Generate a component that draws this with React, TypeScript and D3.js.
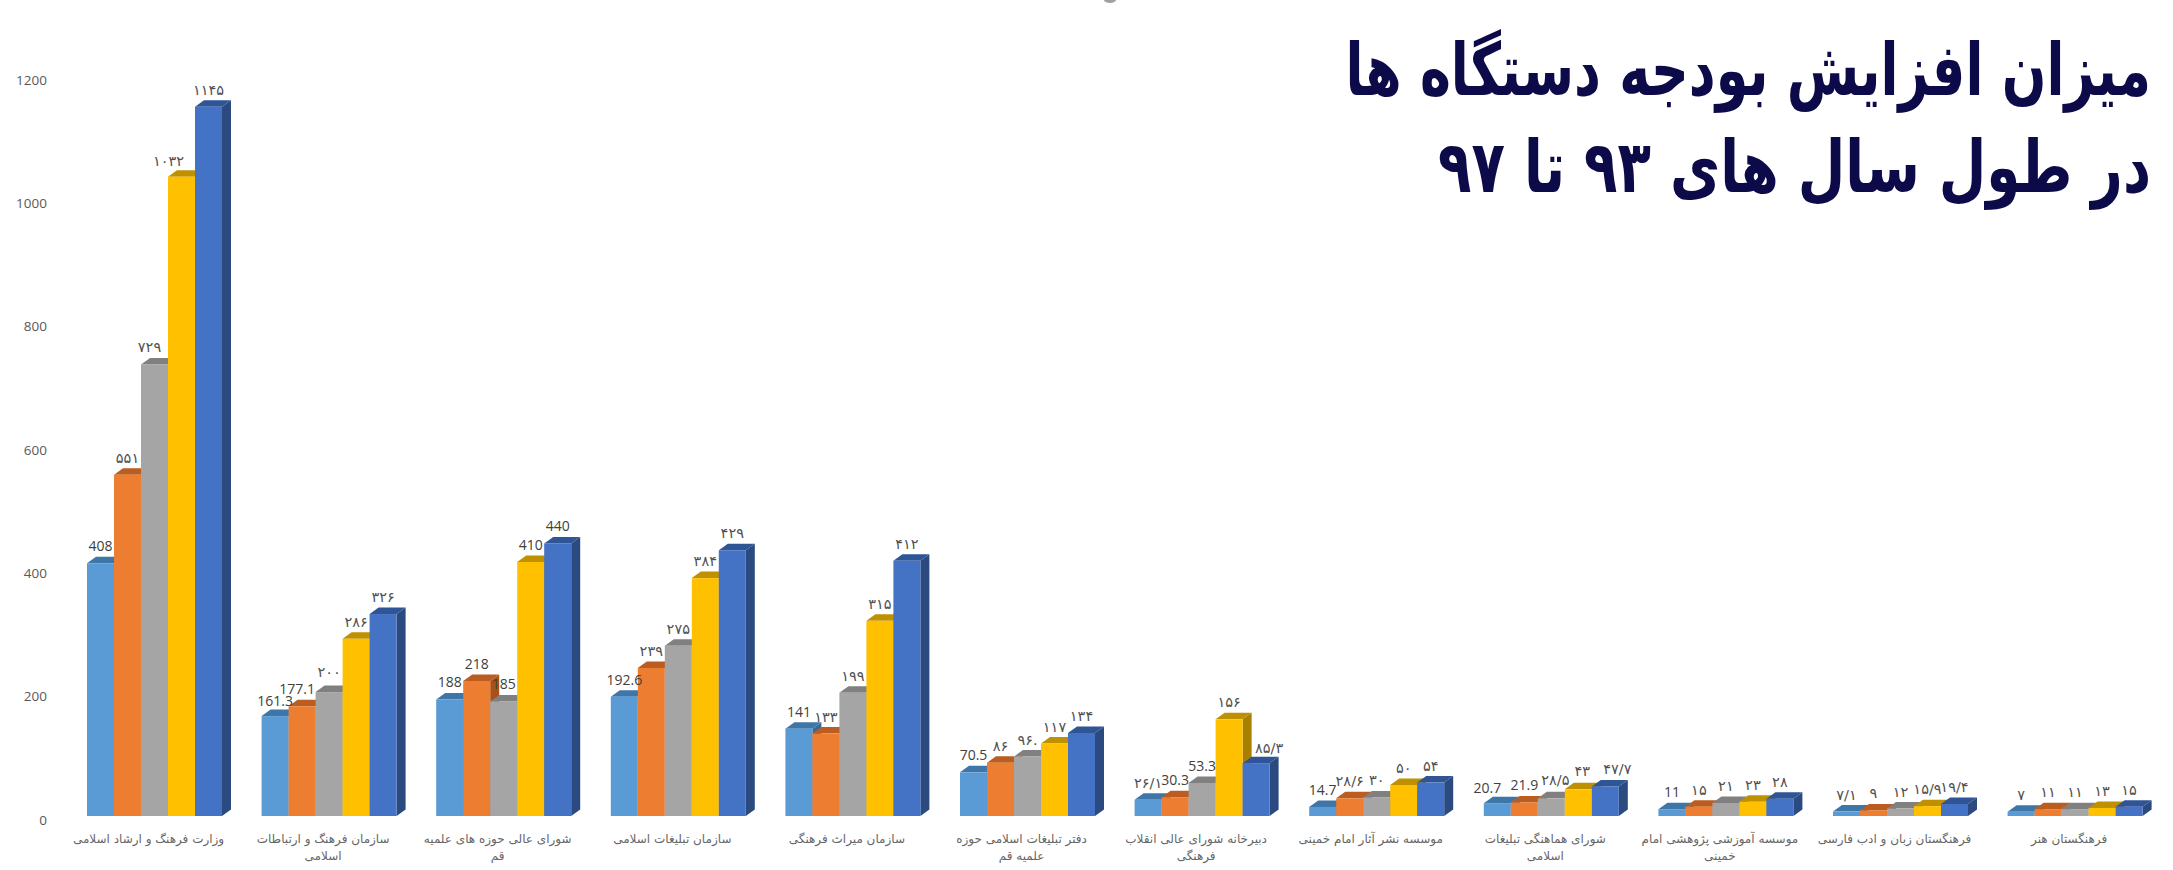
import React, { useEffect, useRef } from 'react';
import * as d3 from 'd3';

const CATEGORIES: string[][] = [
  ['وزارت فرهنگ و ارشاد اسلامی'],
  ['سازمان فرهنگ و ارتباطات', 'اسلامی'],
  ['شورای عالی حوزه های علمیه', 'قم'],
  ['سازمان تبلیغات اسلامی'],
  ['سازمان میراث فرهنگی'],
  ['دفتر تبلیغات اسلامی حوزه', 'علمیه قم'],
  ['دبیرخانه شورای عالی انقلاب', 'فرهنگی'],
  ['موسسه نشر آثار امام خمینی'],
  ['شورای هماهنگی تبلیغات', 'اسلامی'],
  ['موسسه آموزشی پژوهشی امام', 'خمینی'],
  ['فرهنگستان زبان و ادب فارسی'],
  ['فرهنگستان هنر'],
];

// one list per year, 93 to 97
const Y93 = [408, 161.3, 188, 192.6, 141, 70.5, 26.1, 14.7, 20.7, 11, 7.1, 7];
const Y94 = [551, 177.1, 218, 239, 133, 86, 30.3, 28.6, 21.9, 15, 9, 11];
const Y95 = [729, 200, 185, 275, 199, 96, 53.3, 30, 28.5, 21, 12, 11];
const Y96 = [1032, 286, 410, 384, 315, 117, 156, 50, 43, 23, 15.9, 13];
const Y97 = [1145, 326, 440, 429, 412, 134, 85.3, 54, 47.7, 28, 19.4, 15];

const L93 = ['408', '161.3', '188', '192.6', '141', '70.5', '۲۶/۱', '14.7', '20.7', '11', '۷/۱', '۷'];
const L94 = ['۵۵۱', '177.1', '218', '۲۳۹', '۱۳۳', '۸۶', '30.3', '۲۸/۶', '21.9', '۱۵', '۹', '۱۱'];
const L95 = ['۷۲۹', '۲۰۰', '185', '۲۷۵', '۱۹۹', '۹۶.', '53.3', '۳۰', '۲۸/۵', '۲۱', '۱۲', '۱۱'];
const L96 = ['۱۰۳۲', '۲۸۶', '410', '۳۸۴', '۳۱۵', '۱۱۷', '۱۵۶', '۵۰', '۴۳', '۲۳', '۱۵/۹', '۱۳'];
const L97 = ['۱۱۴۵', '۳۲۶', '440', '۴۲۹', '۴۱۲', '۱۳۴', '۸۵/۳', '۵۴', '۴۷/۷', '۲۸', '۱۹/۴', '۱۵'];

const SERIES = [Y93, Y94, Y95, Y96, Y97];
const LABELS = [L93, L94, L95, L96, L97];
const TICKS = [0, 200, 400, 600, 800, 1000, 1200];
const FRONT = ['#5b9bd5', '#ed7d31', '#a5a5a5', '#ffc000', '#4472c4'];
const TOP = ['#3f76a8', '#bb5c20', '#808080', '#bf9000', '#2f5597'];
const SIDE = ['#376a99', '#a9501a', '#717171', '#a87f00', '#2a4a80'];

// hand-moved data labels in the original, key is category-series, value is [dx, dy]
const NUDGE: Record<string, [number, number]> = {
  '0-2': [-5, 0],
  '0-3': [-13, 1],
  '1-0': [0, 2],
  '1-1': [-5, 0],
  '1-2': [0, -3],
  '6-4': [13, 2],
  '8-0': [-10, 2],
  '8-2': [4, -1],
  '8-3': [4, -1],
  '8-4': [12, -1],
};

const TITLE = ['میزان افزایش بودجه دستگاه ها', 'در طول سال های ۹۳ تا ۹۷'];
const TITLE_STRETCH = [0.795, 0.83];
const ARABIC = '"DejaVu Sans", sans-serif';
const LATIN = '"Open Sans", sans-serif';

export default function App() {
  const ref = useRef<SVGSVGElement>(null);

  useEffect(() => {
    const svg = d3.select(ref.current);
    svg.selectAll('*').remove();

    const x0 = d3
      .scaleBand<number>()
      .domain(d3.range(CATEGORIES.length))
      .range([87, 2142.6])
      .paddingInner(0.2268);
    const x1 = d3.scaleBand<number>().domain(d3.range(SERIES.length)).range([0, x0.bandwidth()]);
    const y = d3.scaleLinear().domain([0, 1200]).range([816, 72.6]);
    // the 3D floor sits a little off the tick labels
    const yTick = d3.scaleLinear().domain([0, 1200]).range([820, 80]);

    const depthX = 9;
    const depthY = 6.5;
    const w = x1.bandwidth();

    // stray bit of a cropped shape at the top edge of the original
    svg.append('ellipse').attr('cx', 1110).attr('cy', 0).attr('rx', 6).attr('ry', 3).attr('fill', '#a0a0a0');

    // y labels only, the chart has no axis line or grid
    svg
      .append('g')
      .selectAll('text')
      .data(TICKS)
      .join('text')
      .attr('x', 47)
      .attr('y', (d) => yTick(d))
      .attr('dy', '0.35em')
      .attr('text-anchor', 'end')
      .attr('fill', '#595959')
      .attr('font-family', LATIN)
      .attr('font-size', 13.5)
      .text((d) => d);

    CATEGORIES.forEach((lines, c) => {
      const g = svg.append('g').attr('transform', `translate(${x0(c)},0)`);

      SERIES.forEach((values, s) => {
        const left = x1(s) ?? 0;
        const right = left + w;
        const top = y(values[c]);
        const base = y(0);

        g.append('polygon')
          .attr('points', `${right},${top} ${right + depthX},${top - depthY} ${right + depthX},${base - depthY} ${right},${base}`)
          .attr('fill', SIDE[s]);
        g.append('polygon')
          .attr('points', `${left},${top} ${left + depthX},${top - depthY} ${right + depthX},${top - depthY} ${right},${top}`)
          .attr('fill', TOP[s]);
        g.append('rect')
          .attr('x', left)
          .attr('y', top)
          .attr('width', w)
          .attr('height', base - top)
          .attr('fill', FRONT[s]);
      });

      // labels go after all bars of the group so none gets covered
      SERIES.forEach((values, s) => {
        const label = LABELS[s][c];
        const latin = /^[0-9.]+$/.test(label);
        const [dx, dy] = NUDGE[`${c}-${s}`] ?? [0, 0];
        g.append('text')
          .attr('x', (x1(s) ?? 0) + w / 2 + dx)
          .attr('y', y(values[c]) - 17 + dy)
          .attr('dy', '0.35em')
          .attr('text-anchor', 'middle')
          .attr('fill', latin ? '#404040' : '#505050')
          .attr('font-family', latin ? LATIN : ARABIC)
          .attr('font-size', latin ? 14 : 14.5)
          .text(label);
      });

      lines.forEach((line, i) => {
        g.append('text')
          .attr('x', x0.bandwidth() / 2 - 6)
          .attr('y', 839 + i * 17)
          .attr('dy', '0.35em')
          .attr('text-anchor', 'middle')
          .attr('direction', 'rtl')
          .attr('fill', '#666666')
          .attr('font-family', ARABIC)
          .attr('font-size', 12)
          .text(line);
      });
    });

    svg
      .selectAll('text.title')
      .data(TITLE)
      .join('text')
      .attr('class', 'title')
      .attr('transform', (_, i) => `translate(2151,${95 + i * 97}) scale(${TITLE_STRETCH[i]},1.1)`)
      .attr('direction', 'rtl')
      .attr('text-anchor', 'start')
      .attr('fill', '#0c0a48')
      .attr('font-family', ARABIC)
      .attr('font-weight', 700)
      .attr('font-size', 66)
      .text((d) => d);
  }, []);

  return (
    <svg
      ref={ref}
      width={2173}
      height={870}
      viewBox="0 0 2173 870"
      style={{ position: 'absolute', left: 0, top: 0, background: '#fff' }}
    />
  );
}
